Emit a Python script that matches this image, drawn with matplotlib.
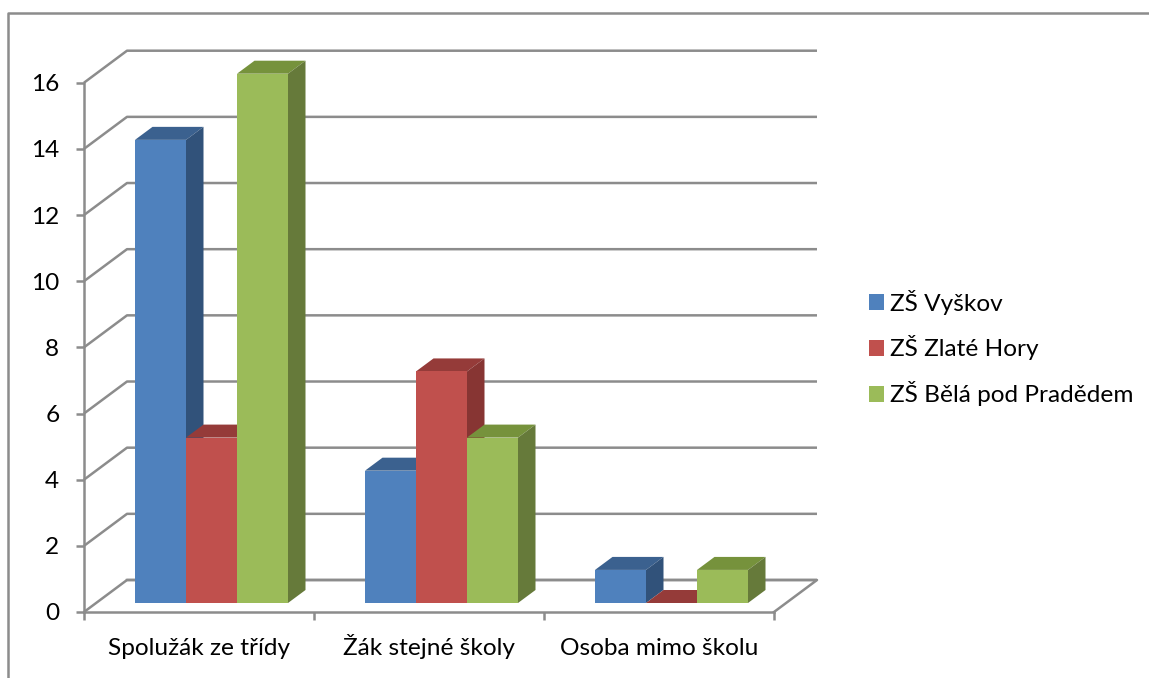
import matplotlib
matplotlib.use("Agg")
import matplotlib.pyplot as plt
from matplotlib.patches import Polygon, Patch
from matplotlib.lines import Line2D

categories = ["Spolužák ze třídy", "Žák stejné školy", "Osoba mimo školu"]
series_names = ["ZŠ Vyškov", "ZŠ Zlaté Hory", "ZŠ Bělá pod Pradědem"]
vyskov = [14, 4, 1]
zlate_hory = [5, 7, 0]
bela = [16, 5, 1]
y_ticks = [0, 2, 4, 6, 8, 10, 12, 14, 16]

W, H = 1149, 678
FRONT = ["#4F81BD", "#C0504D", "#9BBB59"]
TOP = ["#3B618F", "#953B39", "#76923C"]
SIDE = ["#31527A", "#873533", "#667A3A"]
GRID = "#8C8C8C"
LW = 1.8
FS = 17.6
plt.rcParams["font.family"] = ["Lato", "DejaVu Sans"]

fig = plt.figure(figsize=(W / 100, H / 100), dpi=100, facecolor="white")
L, R, T0, B0 = 84, 774, 82.7, 612
ax = fig.add_axes([L / W, 1 - B0 / H, (R - L) / W, (B0 - T0) / H])
ax.set_xlim(0, 3)
ax.set_ylim(0, 16)
ax.patch.set_alpha(0)

px = (R - L) / 3          # pixels per category
py = (B0 - T0) / 16       # pixels per value unit
wall_dx, wall_dy = 43 / px, 32 / py
bar_dx, bar_dy = 17.5 / px, 13 / py
base = 9 / py             # bars sit a little behind the front edge
bar_w = 51 / px
bar_x0 = 51 / px

# walls: gridlines
for v in y_ticks:
    xs = [0, wall_dx, 3 + wall_dx]
    ys = [v, v + wall_dy, v + wall_dy]
    ax.plot(xs, ys, color=GRID, lw=LW, zorder=1, clip_on=False, solid_capstyle="butt")
ax.plot([3, 3 + wall_dx, wall_dx], [0, wall_dy, wall_dy], color=GRID, lw=LW, zorder=1, clip_on=False)

# bars
for i in range(len(categories)):
    for s, vals in enumerate([vyskov, zlate_hory, bela]):
        x0 = i + bar_x0 + s * bar_w
        x1 = x0 + bar_w
        y0, y1 = base, base + vals[i]
        z = 3 + s * 0.1
        edge = dict(edgecolor="none", clip_on=False, zorder=z)
        ax.add_patch(Polygon([(x0, y1), (x1, y1), (x1 + bar_dx, y1 + bar_dy), (x0 + bar_dx, y1 + bar_dy)],
                             facecolor=TOP[s], **edge))
        ax.add_patch(Polygon([(x1, y0), (x1 + bar_dx, y0 + bar_dy), (x1 + bar_dx, y1 + bar_dy), (x1, y1)],
                             facecolor=SIDE[s], **edge))
        if vals[i] > 0:
            ax.add_patch(Polygon([(x0, y0), (x1, y0), (x1, y1), (x0, y1)], facecolor=FRONT[s], **edge))

# axes
for name in ["top", "right"]:
    ax.spines[name].set_visible(False)
for name in ["left", "bottom"]:
    ax.spines[name].set_color(GRID)
    ax.spines[name].set_linewidth(LW)
ax.set_yticks(y_ticks)
ax.set_yticklabels([str(v) for v in y_ticks], fontsize=FS, color="black")
ax.tick_params(axis="y", length=5.8, width=LW, color=GRID, pad=12)
ax.set_xticks([0, 1, 2, 3])
ax.set_xticklabels([])
ax.tick_params(axis="x", which="major", length=5.8, width=LW, color=GRID)
ax.set_xticks([0.5, 1.5, 2.5], minor=True)
ax.set_xticklabels(categories, minor=True, fontsize=FS, color="black", va="baseline")
ax.tick_params(axis="x", which="minor", length=0, pad=31)

# outer chart border
fig.add_artist(Line2D([8 / W, 8 / W, 1], [0, 1 - 12.5 / H, 1 - 12.5 / H], color=GRID, lw=LW))

# legend
handles = [Patch(facecolor=c, edgecolor="none") for c in FRONT]
fig.legend(handles, series_names, loc="center left", bbox_to_anchor=(869 / W, 1 - 348 / H),
           frameon=False, fontsize=FS, handlelength=0.61, handleheight=0.61, handletextpad=0.25,
           labelspacing=0.85, borderpad=0, borderaxespad=0)

fig.savefig("out.png", dpi=100, facecolor="white")
